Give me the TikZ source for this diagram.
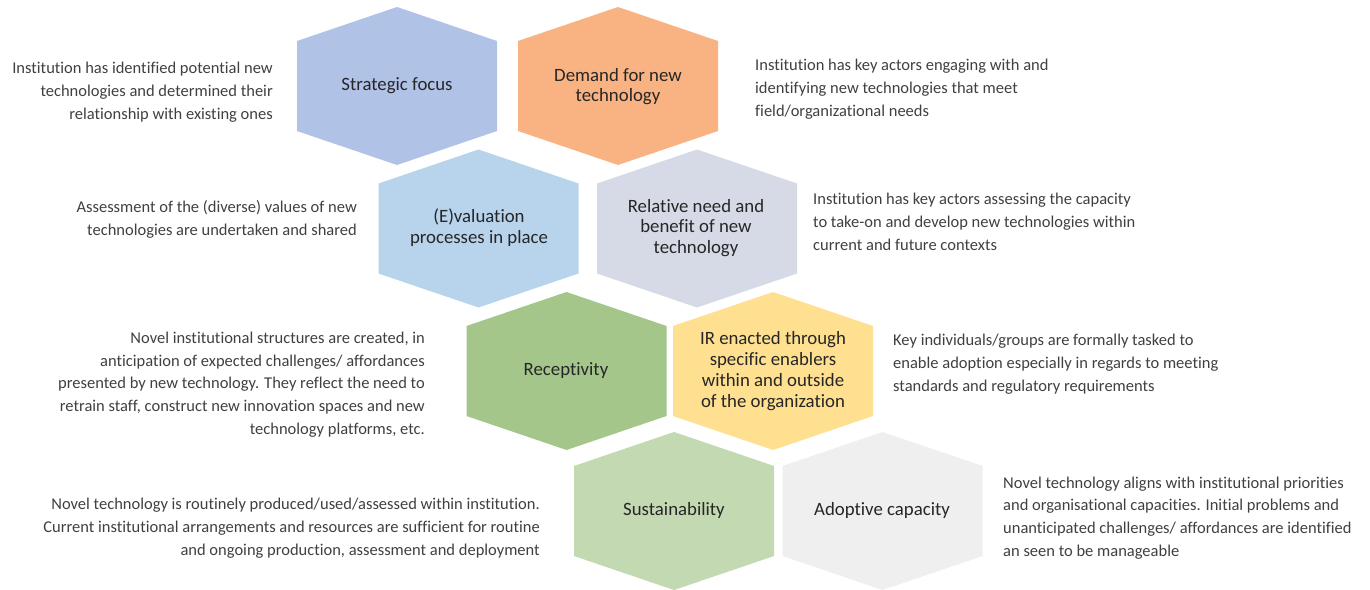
\documentclass[tikz,border=0pt]{standalone}
\usepackage{fontspec}
\setmainfont[Ligatures=NoCommon]{Carlito}
\definecolor{cSF}{HTML}{B0C2E6}
\definecolor{cDM}{HTML}{F9B382}
\definecolor{cEV}{HTML}{B8D3EC}
\definecolor{cRN}{HTML}{D5DAE6}
\definecolor{cRC}{HTML}{A4C68B}
\definecolor{cIR}{HTML}{FEE090}
\definecolor{cSU}{HTML}{C3D9B2}
\definecolor{cAC}{HTML}{EFEFEF}
\definecolor{ttl}{HTML}{262626}
\definecolor{dsc}{HTML}{404040}
\begin{document}
\begin{tikzpicture}[x=1pt,y=-1pt,
  hexa/.pic={\fill[#1] (-100,-45) -- (0,-79) -- (100,-45) -- (100,45) -- (0,79) -- (-100,45) -- cycle;},
  title/.style={text=ttl,align=center,inner sep=0pt,font=\fontsize{18.8}{20.8}\selectfont},
  descR/.style={text=dsc,align=right,anchor=east,inner sep=0pt,font=\fontsize{16.5}{22.8}\selectfont},
  descL/.style={text=dsc,align=left,anchor=west,inner sep=0pt,font=\fontsize{16.5}{22.8}\selectfont}]
\useasboundingbox[fill=white] (0,0) rectangle (1370,589);
% hexagons
\pic at (397,86) {hexa=cSF};
\pic at (618,86) {hexa=cDM};
\pic at (478.5,228.5) {hexa=cEV};
\pic at (697,228.5) {hexa=cRN};
\pic at (566.5,371) {hexa=cRC};
\pic at (773,371) {hexa=cIR};
\pic at (674,511) {hexa=cSU};
\pic at (882.5,511) {hexa=cAC};
% titles
\node[title] (sf) at (397,86) {Strategic focus};
\node[title] (dm) at (618,86.5) {Demand for new\\technology};
\node[title] (ev) at (479,228) {(E)valuation\\processes in place};
\node[title] (rn) at (696,228) {Relative need and\\benefit of new\\technology};
\node[title] (rc) at (566,371) {Receptivity};
\node[title] (ir) at (773,371) {IR enacted through\\specific enablers\\within and outside\\of the organization};
\node[title] (su) at (674,510) {Sustainability};
\node[title] (ac) at (882,510) {Adoptive capacity};
% descriptions
\node[descR] (sfd) at (273,92) {Institution has identified potential new\\technologies and determined their\\relationship with existing ones};
\node[descL] (dmd) at (755,89) {Institution has key actors engaging with and\\identifying new technologies that meet\\field/organizational needs};
\node[descR] (evd) at (357,219) {Assessment of the (diverse) values of new\\technologies are undertaken and shared};
\node[descL] (rnd) at (813,222) {Institution has key actors assessing the capacity\\to take-on and develop new technologies within\\current and future contexts};
\node[descR] (rcd) at (425,384.5) {Novel institutional structures are created, in\\anticipation of expected challenges/ affordances\\presented by new technology. They reflect the need to\\retrain staff, construct new innovation spaces and new\\technology platforms, etc.};
\node[descL] (ird) at (893,364) {Key individuals/groups are formally tasked to\\enable adoption especially in regards to meeting\\standards and regulatory requirements};
\node[descR] (sud) at (540,528) {Novel technology is routinely produced/used/assessed within institution.\\Current institutional arrangements and resources are sufficient for routine\\and ongoing production, assessment and deployment};
\node[descL] (acd) at (1003,518) {Novel technology aligns with institutional priorities\\and organisational capacities. Initial problems and\\unanticipated challenges/ affordances are identified\\an seen to be manageable};
\end{tikzpicture}
\end{document}
